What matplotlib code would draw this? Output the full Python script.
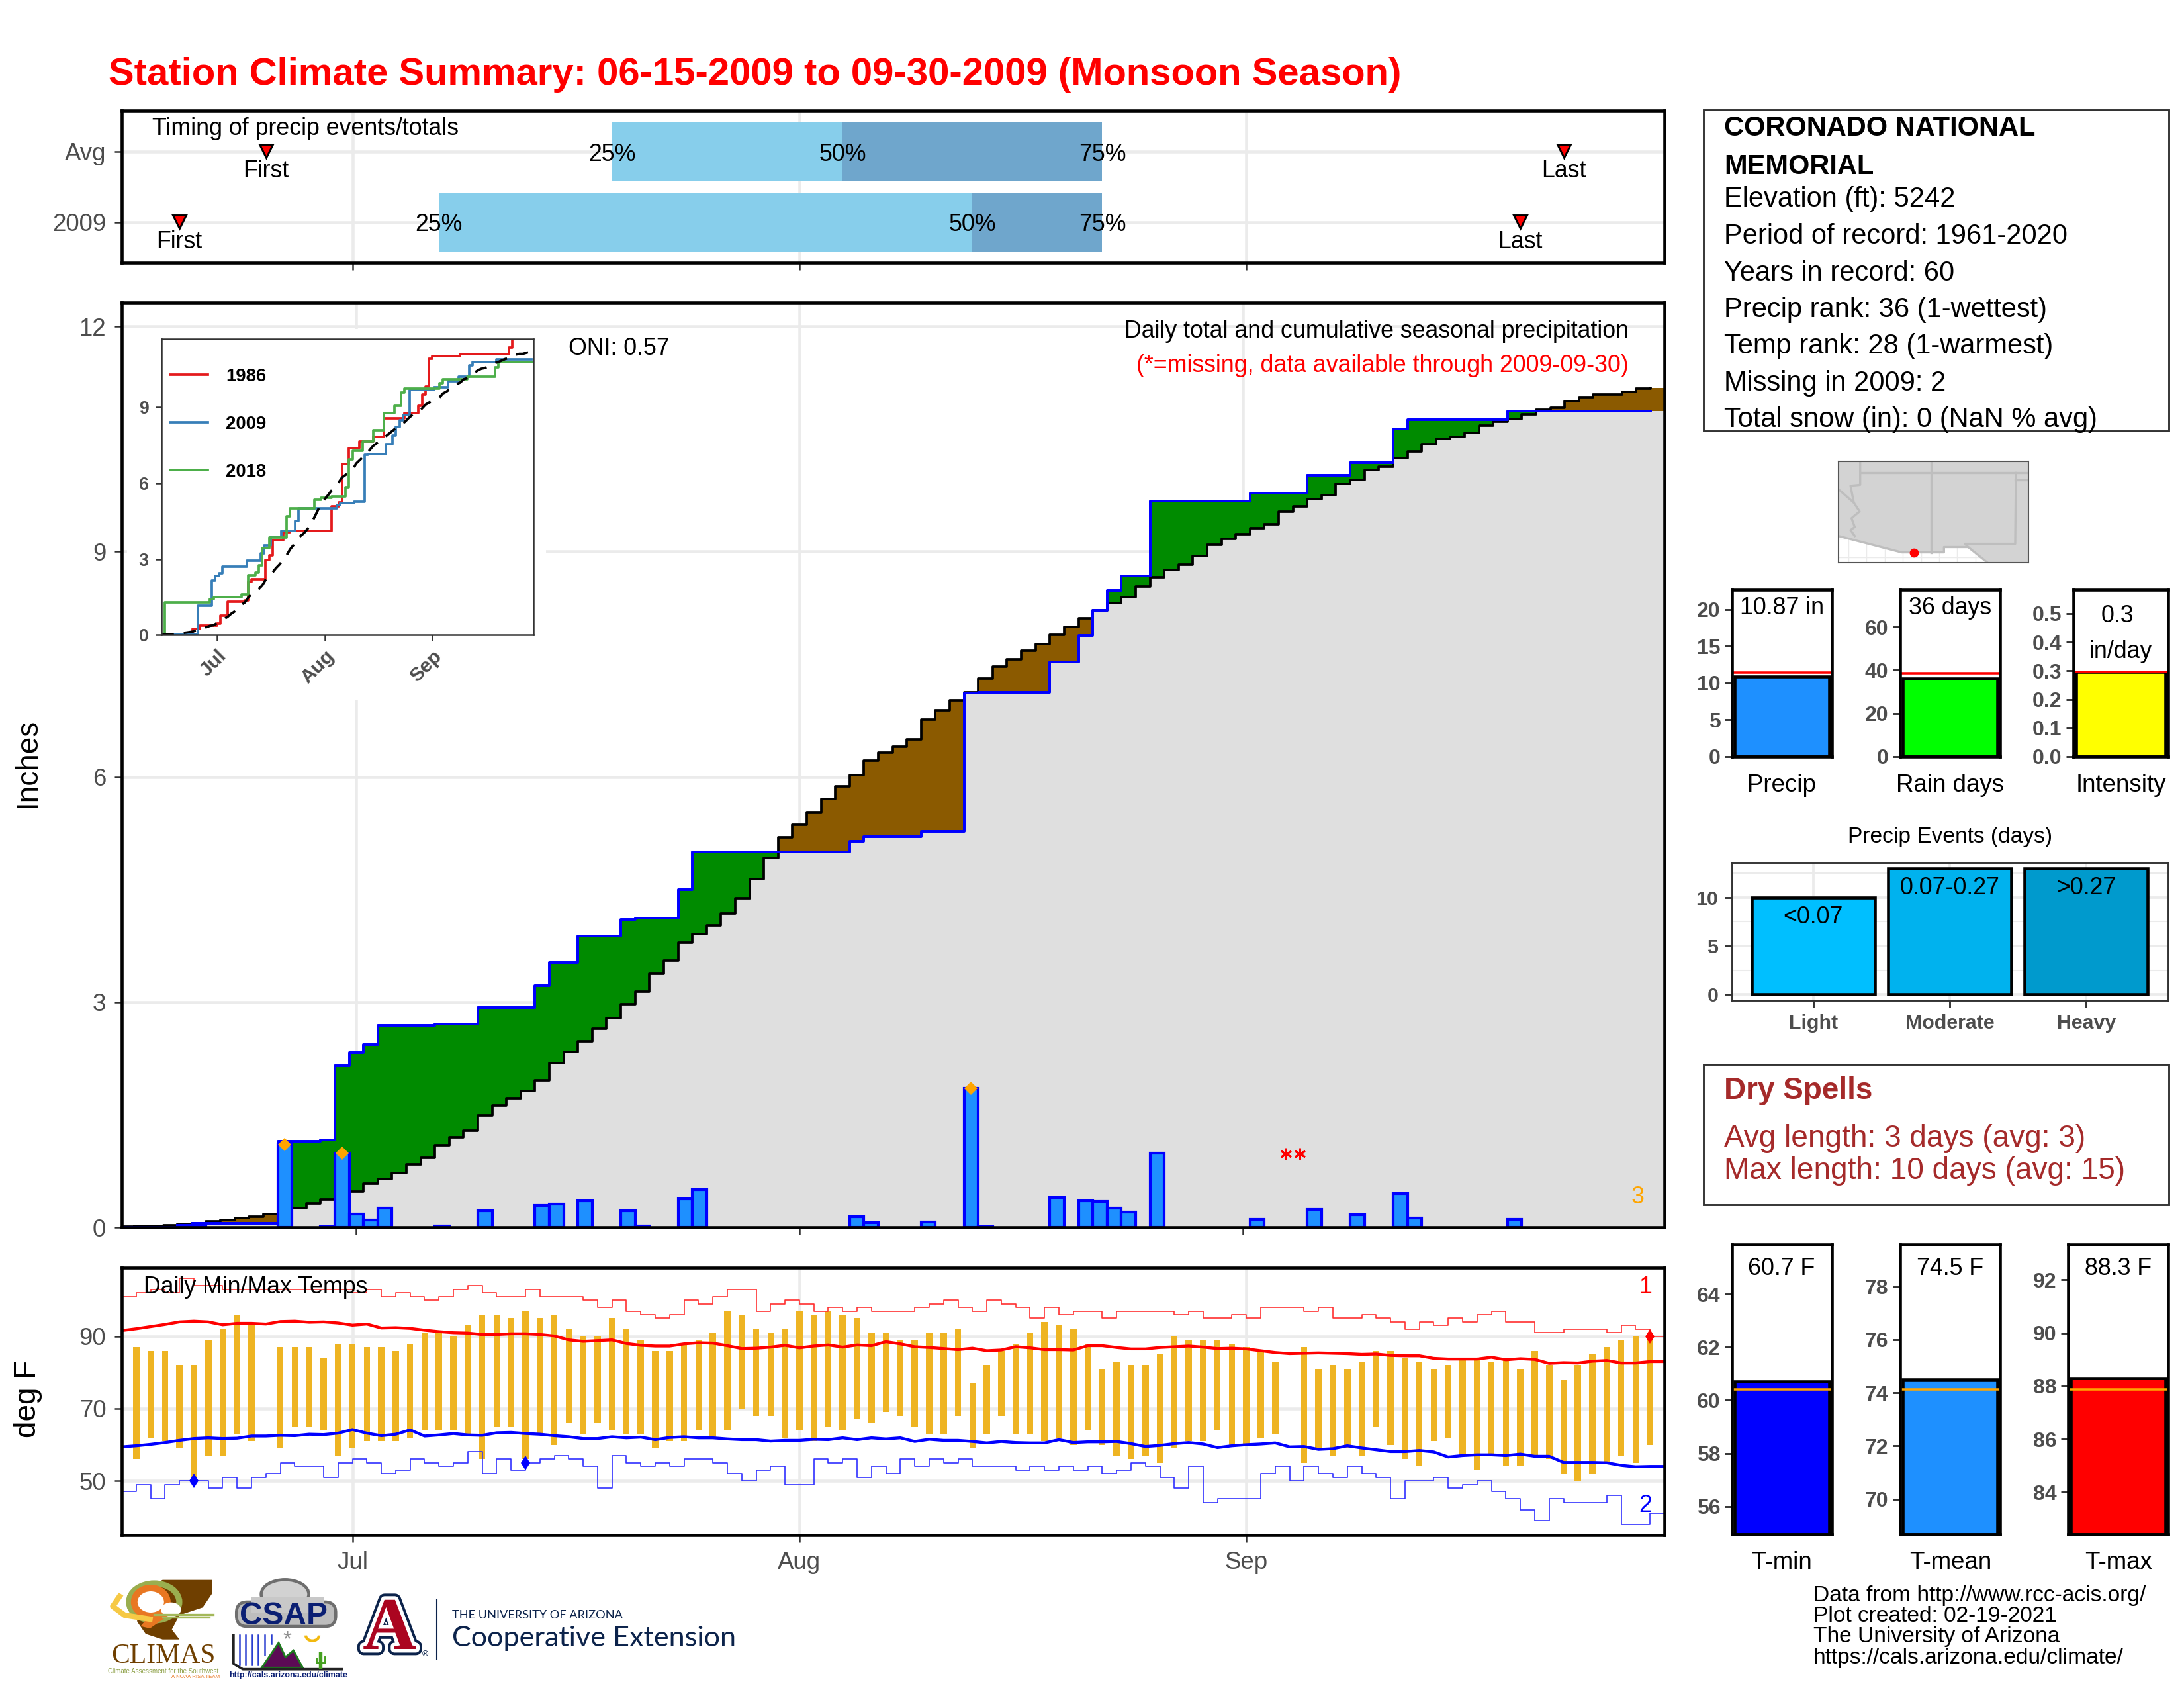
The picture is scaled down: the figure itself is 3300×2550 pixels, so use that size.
import numpy as np
import matplotlib
matplotlib.use('Agg')
from matplotlib import pyplot as plt
from matplotlib import patheffects as pe
from matplotlib.patches import Rectangle, Ellipse, Polygon, FancyBboxPatch, Arc

plt.rcParams['font.family'] = ['Liberation Sans', 'DejaVu Sans']

W, H = 3300, 2550
# days counted from Jul 1, season runs Jun 15 (-16) to Sep 30 (91)
days = np.arange(-16, 92)
month_ticks = [0, 31, 62]
month_labels = ['Jul', 'Aug', 'Sep']
XLIM = (-16, 91)
MAIN_XLIM = (-16.4, 91.48)

# timing panel
timing_rows = ['2009', 'Avg']
timing_25 = [6, 18]
timing_50 = [43, 34]
timing_75 = [52, 52]
timing_first = [-12, -6]
timing_last = [81, 84]

# daily precip
rain_days = [-12, -11, -5, -2, -1, 0, 1, 2, 6, 9, 13, 14, 16, 19, 20, 23, 24, 35, 36, 40, 43, 44,
             49, 51, 52, 53, 54, 56, 63, 67, 70, 73, 74, 81]
rain_amts = [.03, .02, 1.10, .01, .99, .18, .10, .26, .02, .22, .29, .31, .35, .22, .02, .38, .50, .14, .06, .07, 1.85, .01,
             .40, .35, .34, .26, .20, .99, .11, .24, .17, .45, .12, .11]
record_rain_days = [-5, -1, 43]
missing_days = [65, 66]
avg_cum = [.01, .02, .02, .03, .04, .05, .08, .10, .12, .14, .18, .20, .26, .32, .37, .39, .48, .58, .64, .72,
           .84, .93, 1.09, 1.20, 1.29, 1.49, 1.62, 1.72, 1.82, 1.96, 2.19, 2.34, 2.48, 2.65, 2.79, 2.97, 3.14, 3.38,
           3.55, 3.79, 3.91, 4.02, 4.18, 4.38, 4.64, 4.92, 5.19, 5.36, 5.53, 5.71,
           5.87, 6.02, 6.22, 6.32, 6.40, 6.50, 6.76, 6.89, 7.02, 7.13, 7.31, 7.47, 7.57, 7.68, 7.77, 7.89, 8.00, 8.11,
           8.22, 8.32, 8.40, 8.54, 8.66, 8.76, 8.83, 8.94, 9.09, 9.17, 9.23, 9.31, 9.37, 9.53, 9.60, 9.70, 9.75, 9.90,
           9.96, 10.09, 10.13, 10.25, 10.34, 10.43, 10.50, 10.53, 10.58, 10.68, 10.73, 10.77, 10.83, 10.89, 10.92,
           11.01, 11.06, 11.09, 11.09, 11.13, 11.17, 11.18]

# inset years, (day, cumulative) at each change
y1986_days = [-16, -7, -5, 0, 1, 3, 8, 9, 10, 14, 15, 16, 19, 21, 33, 35, 36, 38, 41, 45, 48, 54, 58, 59, 60, 61, 62, 70, 84, 85, 91]
y1986_vals = [0, .26, .38, .45, .76, 1.32, 1.36, 2.11, 2.2, 2.95, 3.14, 3.75, 4.07, 4.12, 5.08, 5.24, 6.74, 7.37, 7.64, 7.81,
              8.54, 8.75, 9.05, 9.5, 9.79, 10.9, 10.99, 11.08, 11.35, 11.75, 11.75]
y2018_days = [-16, -15, -2, -1, 7, 9, 11, 12, 13, 15, 20, 21, 28, 30, 33, 37, 38, 39, 42, 45, 48, 51, 53, 54, 64, 65, 72, 80, 81, 91]
y2018_vals = [0, 1.30, 1.41, 1.5, 1.6, 2.35, 2.47, 2.75, 3.42, 3.84, 4.68, 4.99, 5.34, 5.41, 5.46, 5.83, 6.93, 7.27, 7.64, 8.09,
              8.75, 9.05, 9.57, 9.71, 9.92, 10.08, 10.19, 10.57, 10.76, 10.76]

# temperatures, nan where the day is missing
n = np.nan
temp_hi = [n, 87, 86, 86, 82, 82, 89, 92, 96, 93, n, 87, 87, 87, 84, 88, 88, 87, 87, 86, 88, 91, 91, 90, 93, 96, 96, 95, 97, 95, 96,
           92, 90, 90, 95, 92, 89, 86, 86, 88, 89, 91, 97, 96, 92, 91, 92, 97, 96, 97, 96, 95, 91, 91, 89,
           89, 91, 91, 92, 77, 82, 86, 88, 91, 94, 93, 92, 88, 81, 83, 82, 82, 85, 90, 89, 89, 89, 88, 87, 86, 83, n,
           87, 81, 82, 81, 83, 86, 86, 84, 83, 81, 82, 84, 84, 83, 84, 81, 86, 82, 78, 82, 85, 87, 89, 90, 90, n]
temp_lo = [n, 56, 62, 61, 59, 51, 57, 57, 63, 61, n, 59, 65, 65, 64, 57, 59, 61, 61, 61, 62, 64, 64, 64, 63, 56, 65, 65, 56, 63, 60,
           66, 63, 66, 64, 63, 63, 59, 61, 61, 64, 62, 64, 70, 68, 68, 62, 64, 61, 65, 64, 67, 66, 69, 68,
           65, 63, 63, 68, 59, 63, 68, 63, 63, 61, 62, 60, 64, 60, 57, 56, 57, 55, 59, 61, 61, 64, 60, 60, 62, 63, n,
           55, 59, 57, 59, 57, 65, 60, 56, 54, 61, 62, 57, 53, 57, 54, 54, 57, 56, 52, 50, 52, 55, 57, 55, 60, n]
avg_hi = [91.6, 92.1, 92.7, 93.3, 94.0, 94.2, 94.0, 93.2, 93.6, 93.6, 93.4, 94.1, 94.2, 93.9, 94.0, 93.7,
          93.1, 93.4, 92.3, 92.4, 92.2, 91.7, 91.3, 91.0, 90.9, 90.5, 90.5, 90.7, 90.7, 90.5, 90.1, 89.0, 88.6, 88.8, 89.0, 88.0,
          87.5, 87.3, 87.3, 87.9, 88.2, 88.1, 87.4, 86.6, 86.7, 87.0, 87.5,
          86.8, 87.3, 87.6, 87.0, 87.6, 87.4, 88.5, 87.9, 87.1, 86.9, 86.6, 86.3, 86.7, 86.0, 86.2, 87.1, 86.8, 86.3, 86.3, 86.2,
          87.4, 87.4, 86.9, 86.5, 86.5, 86.9, 87.1, 87.3, 87.0, 86.6, 86.7,
          86.5, 86.0, 85.5, 85.2, 85.3, 85.4, 85.3, 85.2, 85.0, 85.1, 84.7, 84.6, 84.6, 83.9, 83.7, 83.7, 83.7, 84.2, 83.5, 83.8,
          83.6, 82.5, 82.7, 82.6, 83.1, 83.3, 82.6, 82.6, 83.0, 83.0]
avg_lo = [59.4, 59.7, 60.1, 60.6, 61.2, 61.7, 61.9, 61.7, 61.8, 62.4, 62.4, 62.6, 62.5, 62.9, 62.8, 63.2,
          64.2, 63.2, 62.5, 62.9, 64.1, 62.4, 62.7, 63.1, 62.7, 62.6, 63.3, 63.4, 63.1, 62.9, 62.5, 62.2, 61.7, 61.7, 62.2, 61.9,
          62.1, 61.4, 62.0, 62.2, 61.9, 61.9, 61.6, 61.4, 61.4, 61.0, 61.2,
          61.2, 61.5, 61.4, 61.9, 61.4, 61.9, 61.6, 61.9, 60.9, 61.5, 61.2, 61.2, 60.9, 60.5, 60.9, 60.6, 60.5, 60.5, 61.4, 60.6,
          60.8, 60.8, 60.9, 60.3, 59.5, 59.8, 60.3, 60.6, 60.2, 59.2, 59.7,
          60.0, 60.2, 60.5, 59.4, 59.5, 58.7, 58.9, 59.7, 59.1, 58.6, 58.1, 58.1, 58.4, 58.0, 56.6, 57.0, 57.2, 57.2, 57.0, 57.4,
          56.8, 56.8, 55.1, 55.1, 55.1, 55.0, 54.3, 53.9, 54.0, 54.0]
rec_hi = [101, 102, 103, 102, 106, 104, 104, 103, 103, 103, 103, 103, 103, 103, 103, 103,
          102, 103, 101, 102, 101, 100, 101, 103, 104, 102, 101, 101, 103, 101, 101, 101, 100, 98, 100, 97, 96, 95, 96, 100, 99, 101, 103, 103, 97,
          99, 100, 99, 97, 98, 97, 98, 97, 97, 97,
          98, 99, 100, 98, 97, 100, 99, 98, 95, 98, 96, 97, 97, 95, 97, 97, 97, 97, 96, 97, 95, 95, 96,
          95, 98, 98, 98, 97, 98, 95, 95, 96, 95, 94, 92, 94, 93, 95, 94, 96, 97, 94, 94, 91, 91, 92, 92, 92, 91, 93, 92, 90, 90]
rec_lo = [47, 49, 45, 49, 50, 50, 48, 51, 48, 51, 52, 55, 54, 54, 51, 55,
          56, 55, 52, 53, 56, 55, 54, 55, 58, 52, 56, 53, 55, 56, 57, 56, 54, 48, 57, 55, 54, 55, 54, 56, 56, 55, 52, 50, 53,
          54, 49, 49, 56, 55, 56, 51, 54, 52, 56,
          54, 56, 55, 56, 54, 54, 54, 53, 54, 53, 54, 53, 54, 52, 53, 55, 54, 51, 48, 54, 44, 45, 45,
          45, 52, 54, 50, 54, 52, 51, 54, 52, 51, 45, 50, 50, 51, 48, 49, 50, 47, 45, 42, 39, 45, 44, 44, 44, 46, 38, 38, 41, 41]
low_tie = ([-11, 12], [50, 55])
high_tie = ([90], [90])

# side panels
info_lines = ['Elevation (ft): 5242', 'Period of record: 1961-2020', 'Years in record: 60', 'Precip rank: 36 (1-wettest)',
              'Temp rank: 28 (1-warmest)', 'Missing in 2009: 2', 'Total snow (in): 0 (NaN % avg)']
event_names = ['Light', 'Moderate', 'Heavy']
event_counts = [10, 13, 13]
event_ranges = ['<0.07', '0.07-0.27', '>0.27']
event_colors = ['#00BFFF', '#00B2EE', '#009ACD']
footer = ['Data from http://www.rcc-acis.org/', 'Plot created: 02-19-2021', 'The University of Arizona', 'https://cals.arizona.edu/climate/']

# map outlines (lon, lat)
land_lon = [-115.7, -111.17, -108.15, -108.15, -106.42, -105.03, -102.1, -102.1, -115.7]
land_lat = [32.5, 31.33, 31.33, 31.71, 31.71, 30.6, 30.6, 37.82, 37.82]
river_lon = [-114.15, -114.15, -114.84, -114.61, -114.19, -114.77, -114.54, -114.84, -114.54]
river_lat = [37.82, 36.15, 36.08, 34.88, 34.25, 33.77, 33.14, 32.92, 32.5]
canv_lon = [-115.7, -114.61]
canv_lat = [35.83, 34.88]
north_lon = [-114.15, -102.1]
north_lat = [37.0, 37.0]
az_lon = [-109.05, -109.05]
az_lat = [37.82, 31.33]
nm_lon = [-103.0, -103.05, -106.65, -106.42]
nm_lat = [37.0, 31.94, 31.94, 31.71]
ok_lon = [-103.04, -102.1]
ok_lat = [36.5, 36.5]
station = (-110.3, 31.3)

GRID = '#EBEBEB'
TICK = '#333333'
LABEL = '#4D4D4D'
TXT = 8.6

fig = plt.figure(figsize=(11, 8.5), dpi=300, facecolor='white')


def add_ax(l, t, r, b, z=1):
    return fig.add_axes([l / W, 1 - b / H, (r - l) / W, (b - t) / H], zorder=z)


def frame(ax, lw=1.1, color='black'):
    for s in ax.spines.values():
        s.set_linewidth(lw)
        s.set_color(color)
        s.set_zorder(20)


def date_axis(ax, xlim=XLIM):
    ax.set_xlim(*xlim)
    ax.set_xticks(month_ticks)
    ax.set_xticklabels([])
    ax.grid(True, color=GRID, lw=1.1, zorder=0)
    ax.set_axisbelow(True)
    ax.tick_params(length=2.7, width=0.6, color=TICK, labelcolor=LABEL, labelsize=8.8, pad=3)
    frame(ax)


# timing
ax = add_ax(184, 167, 2515, 397)
date_axis(ax)
ax.set_ylim(0.425, 2.58)
ax.set_yticks([1, 2])
ax.set_yticklabels(timing_rows)
for k, row in enumerate([1, 2]):
    ax.barh(row, timing_50[k] - timing_25[k], left=timing_25[k], height=.83, color='#87CEEB', zorder=2)
    ax.barh(row, timing_75[k] - timing_50[k], left=timing_50[k], height=.83, color='#6FA6CC', zorder=2)
    for val, lab in zip([timing_25[k], timing_50[k], timing_75[k]], ['25%', '50%', '75%']):
        ax.text(val, row - .04, lab, ha='center', va='center', fontsize=TXT, zorder=4)
    ax.plot([timing_first[k], timing_last[k]], [row + .01, row + .01], ls='', marker='v', ms=5, mfc='red', mec='black', mew=.7, zorder=4)
    ax.text(timing_first[k], row - .28, 'First', ha='center', va='center', fontsize=TXT, zorder=4)
    ax.text(timing_last[k], row - .28, 'Last', ha='center', va='center', fontsize=TXT, zorder=4)

# main precip
ax = add_ax(184, 457, 2515, 1854)
date_axis(ax, MAIN_XLIM)
ax.set_ylim(0, 12.32)
ax.set_yticks([0, 3, 6, 9, 12])
ax.set_yticklabels(['0', '3', '6', '9', '12'])
daily = np.zeros(len(days))
daily[np.array(rain_days) + 16] = rain_amts
cum = np.cumsum(daily)
avg = np.array(avg_cum)
xe = np.append(days - .5, MAIN_XLIM[1])
cum_e = np.append(cum, cum[-1])
avg_e = np.append(avg, avg[-1])
ax.fill_between(xe, 0, np.minimum(cum_e, avg_e), step='post', color='#DFDFDF', lw=0, zorder=1)
ax.fill_between(xe, avg_e, np.maximum(cum_e, avg_e), step='post', color='#008B00', lw=0, zorder=1)
ax.fill_between(xe, cum_e, np.maximum(cum_e, avg_e), step='post', color='#8B5A00', lw=0, zorder=1)
ax.plot(days - .5, avg, drawstyle='steps-post', color='black', lw=.9, zorder=2)
ax.plot(days - .5, cum, drawstyle='steps-post', color='blue', lw=.95, zorder=3)
ax.bar(rain_days, rain_amts, width=1, color='#1E90FF', edgecolor='blue', lw=1, zorder=4)
ax.plot(record_rain_days, [daily[d + 16] for d in record_rain_days], ls='', marker='D', ms=3.5, color='orange', mew=0, zorder=5)
ax.plot(missing_days, [.98, .98], ls='', marker=(6, 2, 0), ms=4.2, mew=.7, color='red', zorder=5)

# white block behind the inset
bg = add_ax(192, 497, 825, 1057, z=2)
bg.set_xticks([])
bg.set_yticks([])
bg.set_facecolor('white')
frame(bg, lw=0, color='white')

ins = add_ax(244, 512, 805.6, 959.5, z=3)
ins.set_xlim(*XLIM)
ins.set_ylim(0, 11.68)
ins.set_xticks(month_ticks)
ins.set_xticklabels(month_labels, rotation=45, ha='right', rotation_mode='anchor', fontweight='bold')
ins.set_yticks([0, 3, 6, 9])
ins.set_yticklabels(['0', '3', '6', '9'], fontweight='bold')
ins.tick_params(length=2.2, width=.6, color=TICK, labelcolor=LABEL, labelsize=7.2, pad=2)
ins.tick_params(axis='y', labelsize=6.4, pad=2.5)
frame(ins, lw=.6, color='#333333')
ins.plot(y1986_days, y1986_vals, drawstyle='steps-post', color='#E41A1C', lw=.9, label='1986')
ins.plot(days - .5, cum, drawstyle='steps-post', color='#377EB8', lw=.9, label='2009')
ins.plot(y2018_days, y2018_vals, drawstyle='steps-post', color='#4DAF4A', lw=.9, label='2018')
ins.plot(days, avg, color='black', lw=.9, dashes=(5, 4))
ins.legend(loc='center left', bbox_to_anchor=(.024, .712), frameon=False, borderpad=0, borderaxespad=0,
           prop={'size': 6.6, 'weight': 'bold'}, handlelength=2.05, handletextpad=1, labelspacing=1.68)

# temps
ax = add_ax(184, 1915, 2515, 2319)
date_axis(ax)
ax.set_ylim(35, 109)
ax.set_yticks([50, 70, 90])
ax.set_yticklabels(['50', '70', '90'])
ax.set_xticklabels(month_labels)
hi = np.array(temp_hi, dtype=float)
lo = np.array(temp_lo, dtype=float)
ax.bar(days, hi - lo, bottom=lo, width=.44, color='#EEB422', lw=0, zorder=2)
ax.plot(days, rec_hi, drawstyle='steps-post', color='#FF3030', lw=.4, zorder=3)
ax.plot(days, rec_lo, drawstyle='steps-post', color='#3030FF', lw=.4, zorder=3)
ax.plot(days, avg_hi, color='red', lw=1.05, zorder=4)
ax.plot(days, avg_lo, color='blue', lw=1.05, zorder=4)
ax.plot(low_tie[0], low_tie[1], ls='', marker='d', ms=3.7, color='blue', mew=0, zorder=5)
ax.plot(high_tie[0], high_tie[1], ls='', marker='d', ms=3.7, color='red', mew=0, zorder=5)


def small_bar(l, r, t, b, ylim, ticks, labels, val, ref, color, refcolor):
    a = add_ax(l, t, r, b)
    a.set_xlim(.5, 1.5)
    a.set_ylim(*ylim)
    a.set_xticks([])
    a.set_yticks(ticks)
    a.set_yticklabels(labels, fontweight='bold')
    a.tick_params(length=2.7, width=.7, color=TICK, labelcolor=LABEL, labelsize=7.7, pad=1.5)
    frame(a, lw=1.1)
    a.bar(1, val - ylim[0], bottom=ylim[0], width=.945, color=color, edgecolor='black', lw=1.1, zorder=2)
    a.axhline(ref, color=refcolor, lw=.85, zorder=3)
    return a


small_bar(2617, 2768, 891, 1143, (0, 22.7), [0, 5, 10, 15, 20], ['0', '5', '10', '15', '20'], 10.87, 11.4, '#1E90FF', 'red')
small_bar(2871, 3022, 891, 1143, (0, 77.2), [0, 20, 40, 60], ['0', '20', '40', '60'], 36, 38.7, '#00FF00', 'red')
small_bar(3133, 3276, 891, 1143, (0, .583), [0, .1, .2, .3, .4, .5], ['0.0', '0.1', '0.2', '0.3', '0.4', '0.5'], .295, .295, '#FFFF00', 'red')
small_bar(2617, 2768, 1880, 2318, (54.95, 65.87), [56, 58, 60, 62, 64], ['56', '58', '60', '62', '64'], 60.7, 60.4, 'blue', 'orange')
small_bar(2871, 3022, 1880, 2318, (68.67, 79.59), [70, 72, 74, 76, 78], ['70', '72', '74', '76', '78'], 74.5, 74.13, '#1E90FF', 'orange')
small_bar(3125, 3276, 1880, 2318, (82.41, 93.33), [84, 86, 88, 90, 92], ['84', '86', '88', '90', '92'], 88.3, 87.87, 'red', 'orange')

# precip events
a = add_ax(2617, 1303, 3276, 1511)
a.set_xlim(.404, 3.6)
a.set_ylim(-.59, 13.6)
a.set_xticks([1, 2, 3])
a.set_xticklabels(event_names, fontweight='bold')
a.set_yticks([0, 5, 10])
a.set_yticklabels(['0', '5', '10'], fontweight='bold')
a.set_yticks([2.5, 7.5, 12.5], minor=True)
a.grid(True, which='major', color=GRID, lw=.9)
a.grid(True, which='minor', axis='y', color=GRID, lw=.5)
a.set_axisbelow(True)
a.tick_params(which='minor', length=0)
a.tick_params(which='major', length=2.7, width=.7, color=TICK, labelcolor=LABEL, labelsize=7.3, pad=2.3)
frame(a, lw=.7, color='#333333')
a.bar([1, 2, 3], event_counts, width=.9, color=event_colors, edgecolor='black', lw=1.1, zorder=2)
for k in range(3):
    a.text(k + 1, event_counts[k] - 2, event_ranges[k], ha='center', va='center', fontsize=TXT, zorder=3)

# map
m = add_ax(2778, 697, 3065, 850)
m.set_xlim(-115.7, -102.1)
m.set_ylim(30.6, 37.82)
m.set_xticks(np.arange(-115, -102, 1.3))
m.set_yticks(np.arange(31, 37, 1.3))
m.grid(True, color=GRID, lw=.35)
m.set_axisbelow(True)
m.tick_params(length=0, labelbottom=False, labelleft=False)
frame(m, lw=.5, color='#555555')
m.fill(land_lon, land_lat, color='#D3D3D3', lw=0, zorder=2)
m.plot(land_lon[:6], land_lat[:6], color='#BEBEBE', lw=.8, zorder=3)
for xs, ys in [(river_lon, river_lat), (canv_lon, canv_lat), (north_lon, north_lat), (az_lon, az_lat), (nm_lon, nm_lat), (ok_lon, ok_lat)]:
    m.plot(xs, ys, color='#BEBEBE', lw=.8, zorder=3)
m.plot([station[0]], [station[1]], ls='', marker='o', ms=3.3, color='red', mew=0, zorder=4, clip_on=False)

# everything placed in pixels: boxes, labels, logos
ov = add_ax(0, 0, W, H, z=10)
ov.set_xlim(0, W)
ov.set_ylim(H, 0)
ov.axis('off')
ov.patch.set_alpha(0)

ov.text(164, 113, 'Station Climate Summary: 06-15-2009 to 09-30-2009 (Monsoon Season)', color='red', fontweight='bold', fontsize=13.92, va='center')
ov.text(230, 194, 'Timing of precip events/totals', fontsize=TXT, va='center')
ov.text(859, 526, 'ONI: 0.57', fontsize=TXT, va='center')
ov.text(2461, 501, 'Daily total and cumulative seasonal precipitation', fontsize=TXT, va='center', ha='right')
ov.text(2461, 552, '(*=missing, data available through 2009-09-30)', fontsize=TXT, va='center', ha='right', color='red')
ov.text(2475, 1809, '3', fontsize=TXT, va='center', ha='center', color='orange')
ov.text(217, 1944, 'Daily Min/Max Temps', fontsize=TXT, va='center')
ov.text(2486, 1944, '1', fontsize=TXT, va='center', ha='center', color='red')
ov.text(2486, 2275, '2', fontsize=TXT, va='center', ha='center', color='blue')
ov.text(42, 1152, 'Inches', fontsize=11, va='center', ha='center', rotation=90)
ov.text(42, 2113, 'deg F', fontsize=11, va='center', ha='center', rotation=90)

ov.add_patch(Rectangle((2574, 166), 703, 485, fc='none', ec='#333333', lw=.7))
ov.text(2605, 194, 'CORONADO NATIONAL', fontweight='bold', fontsize=10, va='center')
ov.text(2605, 252, 'MEMORIAL', fontweight='bold', fontsize=10, va='center')
for yy, line in zip([301, 357, 413, 468, 523, 579, 634], info_lines):
    ov.text(2605, yy, line, fontsize=10, va='center')

for x, lab in zip([2692, 2947, 3205], ['Precip', 'Rain days', 'Intensity']):
    ov.text(x, 1186, lab, fontsize=8.8, ha='center', va='center')
for x, lab in zip([2692, 2947, 3201], ['T-min', 'T-mean', 'T-max']):
    ov.text(x, 2361, lab, fontsize=8.8, ha='center', va='center')
ov.text(2693, 919, '10.87 in', fontsize=TXT, ha='center', va='center')
ov.text(2947, 919, '36 days', fontsize=TXT, ha='center', va='center')
ov.text(3199, 931, '0.3', fontsize=TXT, ha='center', va='center')
ov.text(3204, 984, 'in/day', fontsize=TXT, ha='center', va='center')
for x, lab in zip([2692, 2947, 3201], ['60.7 F', '74.5 F', '88.3 F']):
    ov.text(x, 1917, lab, fontsize=TXT, ha='center', va='center')
ov.text(2947, 1265, 'Precip Events (days)', fontsize=8.05, ha='center', va='center')

ov.add_patch(Rectangle((2574, 1608), 703, 212, fc='none', ec='#333333', lw=.7))
ov.text(2605, 1648, 'Dry Spells', fontweight='bold', fontsize=11, color='#A52A2A', va='center')
ov.text(2605, 1720, 'Avg length: 3 days (avg: 3)', fontsize=11.05, color='#A52A2A', va='center')
ov.text(2605, 1769, 'Max length: 10 days (avg: 15)', fontsize=11.05, color='#A52A2A', va='center')
for yy, line in zip([2410, 2441, 2473, 2504], footer):
    ov.text(2740, yy, line, fontsize=8.04, va='center')


# logos, sketched from the reference crop
def zp(zx, zy):
    return 150 + zx / 1.568, 2340 + zy / 3


def zpoly(pts, **kw):
    ov.add_patch(Polygon([zp(*p) for p in pts], closed=True, **kw))


zpoly([(268, 140), (150, 140), (100, 190), (85, 260), (90, 330), (110, 385), (150, 410), (190, 410), (172, 365), (190, 300), (245, 265), (268, 200)], fc='#6F3F00', ec='none')
ov.add_patch(Ellipse(zp(130, 240), 76, 56, fc='none', ec='#9AAE4F', lw=2.2))
ov.add_patch(Ellipse(zp(122, 240), 50, 42, fc='white', ec='#E87722', lw=2.4))
ov.add_patch(Ellipse(zp(170, 275), 30, 22, fc='white', ec='none'))
ov.plot(*zip(zp(48, 215), zp(32, 260), zp(60, 300), zp(120, 318)), color='#F6C945', lw=2)
ov.plot(*zip(zp(130, 296), zp(270, 296)), color='#A4B85A', lw=.8)
ov.plot(*zip(zp(150, 310), zp(260, 310)), color='#A4B85A', lw=.8)
zpoly([(120, 300), (165, 300), (120, 360), (98, 350)], fc='#E87722', ec='none')
ov.text(*zp(152, 485), 'CLIMAS', family='Liberation Serif', color='#6F3F00', fontsize=10, ha='center', va='center')
ov.text(*zp(152, 555), 'Climate Assessment for the Southwest', color='#8FA24A', fontsize=2.35, ha='center', va='center')
ov.text(*zp(228, 580), 'A NOAA RISA TEAM', color='#E87722', fontsize=1.9, ha='center', va='center')

ov.add_patch(FancyBboxPatch(zp(325, 240), 150, 37, boxstyle='round,pad=0,rounding_size=16', fc='#BDBDBD', ec='#6E6E6E', lw=1.1))
ov.add_patch(Ellipse(zp(440, 205), 72, 44, fc='#D2D2D2', ec='#6E6E6E', lw=1.1))
ov.add_patch(Rectangle(zp(360, 215), 110, 25, fc='#C8C8C8', ec='none'))
ov.text(*zp(437, 305), 'CSAP', color='#0B1F73', fontweight='bold', fontsize=11.5, ha='center', va='center')
ov.plot(*zip(zp(318, 390), zp(318, 520), zp(340, 545), zp(575, 545)), color='#222222', lw=.9)
for zx, zend in zip([332, 347, 362, 377, 392, 408], [525, 525, 525, 525, 480, 430]):
    ov.plot(*zip(zp(zx, 390), zp(zx, zend)), color='#2A3FD0', lw=.6)
zpoly([(385, 538), (425, 425), (441, 490), (460, 460), (482, 538)], fc='#5C0A55', ec='#1E7A1E', lw=.7)
ov.text(*zp(445, 412), '*', color='#909090', fontsize=8, ha='center', va='center')
ov.add_patch(Arc(zp(505, 392), 20, 16, theta1=0, theta2=180, ec='#F2B90F', lw=1))
ov.plot(*zip(zp(524, 475), zp(524, 535)), color='#46A020', lw=1.3)
ov.plot(*zip(zp(514, 495), zp(514, 515), zp(534, 515), zp(534, 490)), color='#46A020', lw=.7)
ov.text(*zp(447, 572), 'http://cals.arizona.edu/climate', color='#0B1F73', fontweight='bold', fontsize=3.0, ha='center', va='center')

t = ov.text(*zp(688, 372), 'A', family='Liberation Serif', fontweight='bold', color='#AB0520', fontsize=27, ha='center', va='center')
t.set_path_effects([pe.Stroke(linewidth=4.5, foreground='#0C234B'), pe.Stroke(linewidth=2.6, foreground='white'), pe.Normal()])
ov.text(*zp(772, 478), '®', color='#0C234B', fontsize=3, ha='center', va='center')
ov.plot(*zip(zp(800, 230), zp(800, 497)), color='#0C234B', lw=.5)
ov.text(*zp(835, 300), 'THE UNIVERSITY OF ARIZONA', family='Lato', color='#0C234B', fontsize=4.4, va='center')
ov.text(*zp(835, 405), 'Cooperative Extension', family='Lato', color='#0C234B', fontsize=10.35, va='center')

fig.savefig('out.png', dpi=300)
